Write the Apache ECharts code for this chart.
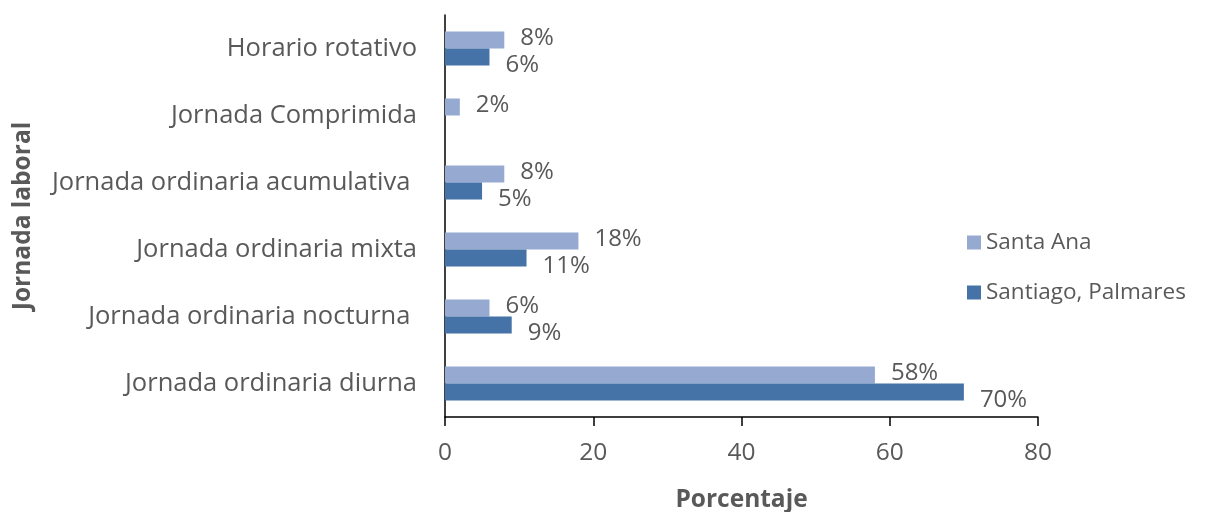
<!DOCTYPE html>
<html>
<head>
<meta charset="utf-8">
<script src="https://cdn.jsdelivr.net/npm/echarts@6/dist/echarts.min.js"></script>
<style>
  html, body { margin: 0; padding: 0; background: #fff; }
  #chart { width: 1216px; height: 512px; }
</style>
</head>
<body>
<div id="chart"></div>
<script>
// Categories (bottom to top, as on the value axis)
const categories = [
  'Jornada ordinaria diurna',
  'Jornada ordinaria nocturna ',
  'Jornada ordinaria mixta',
  'Jornada ordinaria acumulativa ',
  'Jornada Comprimida',
  'Horario rotativo'
];
const seriesNames = ['Santa Ana', 'Santiago, Palmares'];
const santaAna = [58, 6, 18, 8, 2, 8];
const santiagoPalmares = [70, 9, 11, 5, null, 6];
const xTicks = { min: 0, max: 80, interval: 20 };

const FONT = '"Open Sans", "Noto Sans", sans-serif';
const TXT = '#595959';

const chart = echarts.init(document.getElementById('chart'));
const labelBase = {
  show: true, position: 'right', distance: 16,
  fontFamily: FONT, fontSize: 24, color: TXT,
  formatter: p => p.value == null ? '' : p.value + '%'
};
chart.setOption({
  animation: false,
  textStyle: { fontFamily: FONT },
  grid: { left: 445, right: 178, top: 15, bottom: 95, containLabel: false, outerBoundsMode: 'none' },
  legend: {
    data: seriesNames,
    orient: 'vertical',
    left: 962, top: 226,
    itemWidth: 14, itemHeight: 14, itemGap: 27,
    textStyle: { fontFamily: FONT, fontSize: 22.5, color: TXT },
    icon: 'rect'
  },
  xAxis: {
    type: 'value',
    min: xTicks.min, max: xTicks.max, interval: xTicks.interval,
    name: 'Porcentaje', nameLocation: 'middle', nameGap: 71,
    nameTextStyle: { fontFamily: FONT, fontSize: 24.5, fontWeight: 'bold', color: TXT },
    axisLine: { show: true, lineStyle: { color: '#000', width: 1.5 } },
    axisTick: { show: true, length: 9, lineStyle: { color: '#000', width: 1.5 } },
    axisLabel: { fontFamily: FONT, fontSize: 24.5, color: TXT, margin: 24 },
    splitLine: { show: false }
  },
  yAxis: {
    type: 'category', data: categories,
    name: 'Jornada laboral', nameLocation: 'middle', nameRotate: 90, nameGap: 409,
    nameTextStyle: { fontFamily: FONT, fontSize: 24.5, fontWeight: 'bold', color: TXT },
    axisLine: { show: true, lineStyle: { color: '#000', width: 1.5 } },
    axisTick: { show: false },
    axisLabel: { fontFamily: FONT, fontSize: 25.5, color: TXT, margin: 28 },
    splitLine: { show: false }
  },
  series: [
    {
      name: seriesNames[0], type: 'bar', data: santaAna,
      barWidth: 17, barGap: '0%',
      itemStyle: { color: '#96A9D1' },
      label: Object.assign({}, labelBase, { offset: [0, -2] })
    },
    {
      name: seriesNames[1], type: 'bar', data: santiagoPalmares,
      barWidth: 17, barGap: '0%',
      itemStyle: { color: '#4573A8' },
      label: Object.assign({}, labelBase, { offset: [0, 8] })
    }
  ]
});
</script>
</body>
</html>
